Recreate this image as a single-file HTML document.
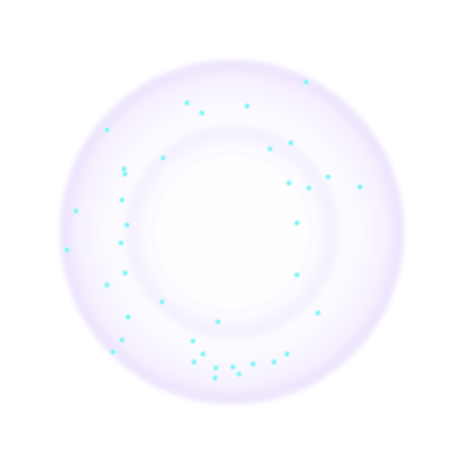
<!DOCTYPE html>
<html><head><meta charset="utf-8"><style>
html,body{margin:0;padding:0;background:#fff;}
svg{display:block;}
</style></head><body>
<svg id="chart" width="461" height="464" viewBox="0 0 461 464" xmlns="http://www.w3.org/2000/svg">
<defs>
<radialGradient id="outerG" cx="232" cy="232" r="174" gradientUnits="userSpaceOnUse">
<stop offset="0" stop-color="#fefdff"/>
<stop offset="0.7" stop-color="#fcfaff"/>
<stop offset="0.88" stop-color="#f6f1fe"/>
<stop offset="0.96" stop-color="#eee5fd"/>
<stop offset="1" stop-color="#f4effe"/>
</radialGradient>
<radialGradient id="midG" cx="232" cy="232" r="108" gradientUnits="userSpaceOnUse">
<stop offset="0" stop-color="#ffffff"/>
<stop offset="0.75" stop-color="#fdfcff"/>
<stop offset="0.94" stop-color="#f5f0fe"/>
<stop offset="1" stop-color="#f8f5fe"/>
</radialGradient>
<radialGradient id="dotG">
<stop offset="0" stop-color="#6ff0f4"/>
<stop offset="0.5" stop-color="#a5f6f8"/>
<stop offset="1" stop-color="#d8fbfc" stop-opacity="0"/>
</radialGradient>
<filter id="blur"><feGaussianBlur stdDeviation="2"/></filter>
</defs>
<circle cx="232" cy="232" r="173" fill="url(#outerG)" filter="url(#blur)"/>
<circle cx="232" cy="232" r="107" fill="url(#midG)" filter="url(#blur)"/>
<circle cx="232" cy="232" r="78" fill="#fffeff" stroke="#f8f5fe" stroke-width="2" filter="url(#blur)"/>
<g id="dots"></g>
</svg>
<script>
const dotX=[187,202,247,306,107,270,291,163,124,125,328,360,289,309,122,76,297,127,121,67,125,297,107,128,318,122,113,193,203,194,216,233,239,253,287,274,215,162,218];
const dotY=[103,113,106,82,130,149,143,158,169,174,177,187,183,188,200,211,223,225,243,250,273,275,285,317,313,340,352,341,354,362,368,367,374,364,354,362,378,302,322];
const g=document.getElementById('dots');
const NS='http://www.w3.org/2000/svg';
for(let i=0;i<dotX.length;i++){
  const c=document.createElementNS(NS,'circle');
  c.setAttribute('cx',dotX[i]);
  c.setAttribute('cy',dotY[i]);
  c.setAttribute('r',4);
  c.setAttribute('fill','url(#dotG)');
  
  
  g.appendChild(c);
}
</script>
</body></html>
